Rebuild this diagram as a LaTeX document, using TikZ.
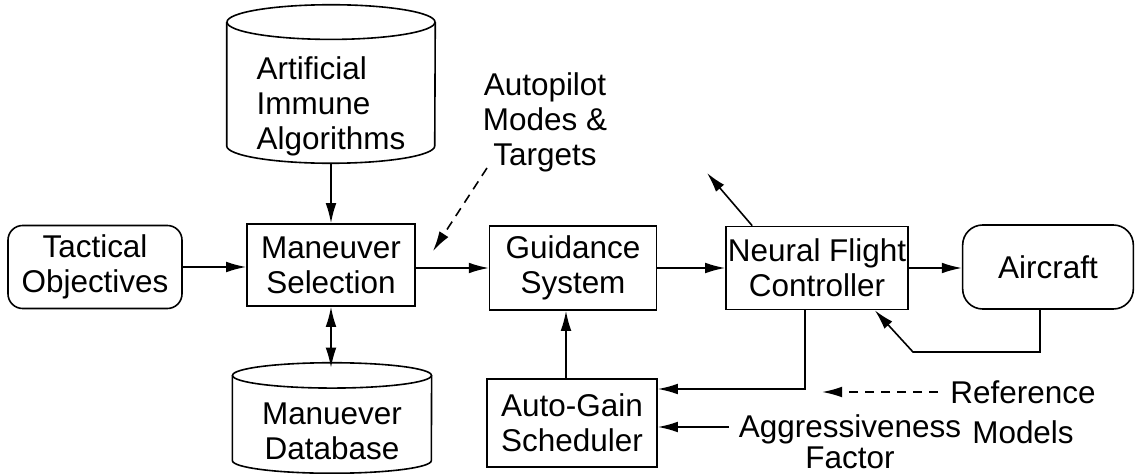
\documentclass[tikz,border=0pt]{standalone}
\usepackage{fontspec}
\setmainfont{Liberation Sans}
\usetikzlibrary{arrows.meta,calc}

% drum outline round a named node: #1 node, #2 half width, #3 end radius (both in pt)
\newcommand{\drum}[3]{%
  \draw[line width=1.2pt] ($(#1.north)+(0,#3/0.75)$) ellipse [x radius=#2pt, y radius=#3pt];
  \draw[line width=1.2pt] ($(#1.north west)+(0,#3/0.75)$) -- ($(#1.south west)+(0,-#3/0.75)$)
    arc [start angle=180, end angle=360, x radius=#2pt, y radius=#3pt] -- ($(#1.north east)+(0,#3/0.75)$);
}

\begin{document}
\begin{tikzpicture}
                [x=0.75pt, y=-0.75pt,
                 every node/.style={font=\fontsize{23.6}{26.3}\selectfont, align=center, inner sep=0pt},
                 block/.style={rectangle, draw, line width=1.2pt},
                 roundblock/.style={block, rounded corners=11pt},
                 store/.style={rectangle, draw=none},
                 edge/.style={draw, line width=1.2pt, -{Latex[length=15pt,width=8pt]}},
                 dashedge/.style={edge, dash pattern=on 7pt off 5pt}]
                \useasboundingbox (0,0) rectangle (1135,474);
                % Define nodes
                \node[roundblock, minimum width=130.5pt, minimum height=62.25pt] (TO) at (95,267) {Tactical\\Objectives};
                \node[block, minimum width=126pt, minimum height=61.5pt] (MS) at (331,265) {Maneuver\\Selection};
                \node[block, minimum width=125pt, minimum height=63pt] (GS) at (573,268) {Guidance\\System};
                \node[block, minimum width=136.5pt, minimum height=62.25pt] (NFC) at (817,268) {Neural Flight\\Controller};
                \node[roundblock, rounded corners=15pt, minimum width=128pt, minimum height=63pt] (AC) at (1048,267) {Aircraft};
                \node[block, minimum width=127.5pt, minimum height=66pt] (AGS) at (572,423) {Auto-Gain\\Scheduler};
                \node[store, minimum width=156pt, minimum height=118.5pt] (AIA) at (331,84) {};
                \node[align=left] (AIAtext) at (331,106) {Artificial\\Immune\\Algorithms};
                \node[store, minimum width=149pt, minimum height=82.5pt] (DB) at (332,418) {};
                \node (DBtext) at (332,431) {Manuever\\Database};
                \node (AP) at (545,122) {Autopilot\\Modes \&\\Targets};
                \node (REF) at (1023,412) {Reference\\[3.7pt]Models};
                \node (AGG) at (850,442) {Aggressiveness\\[-3pt]Factor};
                \coordinate (APtail) at (487,168);
                \coordinate (APhead) at (433,251);
                \coordinate (NFCout) at (707,173);
                \coordinate (REFtail) at (938,392);
                \coordinate (REFhead) at (822,392);
                \coordinate (AGGtail) at (729,427);
                \coordinate (FBcorner) at (913,352);
                % Define drums
                \drum{AIA}{78}{13}
                \drum{DB}{74.6}{9.5}
                % Define edges
                \draw[edge] (TO.east) -- (TO.east -| MS.west);
                \draw[edge] (AIA.south) -- (AIA.south |- MS.north);
                \draw[edge, {Latex[length=15pt,width=8pt]}-{Latex[length=15pt,width=8pt]}] (MS.south) -- ($(MS.south |- DB.north)+(0,5)$);
                \draw[edge] (MS.east |- GS.west) -- (GS.west);
                \draw[edge] (GS.east) -- (NFC.west);
                \draw[edge] (NFC.east) -- (NFC.east -| AC.west);
                \draw[edge] ($(AGS.north)+(-6,0)$) -- ($(GS.south)+(-7,0)$);
                \draw[edge] ($(NFC.south)+(-12,0)$) |- ($(AGS.east)+(0,-34)$);
                \draw[edge] (AGGtail) -- (AGGtail -| AGS.east);
                \draw[edge] ($(AC.south)+(-8,0)$) |- (FBcorner) -- ($(NFC.south east)+(-34,0)$);
                \draw[edge] ($(NFC.north west)+(27,0)$) -- (NFCout);
                \draw[dashedge] (APtail) -- (APhead);
                \draw[dashedge] (REFtail) -- (REFhead);
            \end{tikzpicture}
\end{document}
